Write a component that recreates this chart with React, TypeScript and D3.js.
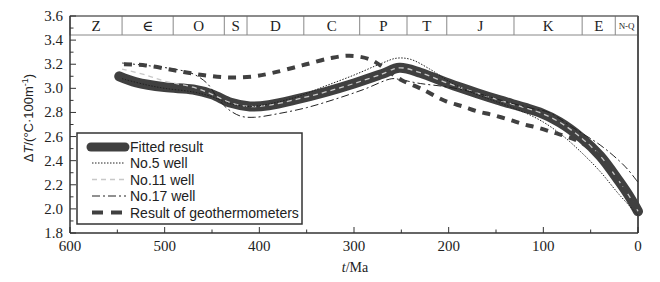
import React from "react";
import * as d3 from "d3";

const periodNames = ["Z", "∈", "O", "S", "D", "C", "P", "T", "J", "K", "E", "N-Q"];
const periodBounds = [600, 545, 491, 437, 413, 353, 294, 244, 202, 131, 59, 24, 0];

const yTicks = [1.8, 2.0, 2.2, 2.4, 2.6, 2.8, 3.0, 3.2, 3.4, 3.6];
const xTicks = [600, 500, 400, 300, 200, 100, 0];

const fittedAge = [548, 530, 500, 470, 450, 430, 410, 390, 360, 330, 300, 270, 252, 230, 200, 170, 146, 120, 104, 83, 60, 40, 20, 8, 0];
const fittedVal = [3.10, 3.05, 3.01, 2.99, 2.95, 2.88, 2.85, 2.86, 2.91, 2.97, 3.04, 3.12, 3.17, 3.13, 3.04, 2.96, 2.90, 2.84, 2.80, 2.72, 2.59, 2.44, 2.23, 2.09, 1.98];

const well5Age = [545, 520, 500, 470, 450, 430, 410, 390, 360, 330, 300, 270, 255, 240, 220, 200, 180, 150, 120, 100, 80, 60, 40, 20, 0];
const well5Val = [3.08, 3.03, 3.00, 2.97, 2.93, 2.87, 2.85, 2.87, 2.93, 3.02, 3.11, 3.21, 3.25, 3.24, 3.16, 3.06, 2.98, 2.89, 2.80, 2.72, 2.61, 2.47, 2.31, 2.12, 1.95];

const well11Age = [545, 520, 500, 470, 450, 430, 410, 390, 360, 330, 300, 270, 252, 230, 200, 170, 146, 120, 104, 83, 60, 40, 20, 8, 0];
const well11Val = [3.16, 3.11, 3.06, 3.01, 2.95, 2.88, 2.85, 2.86, 2.91, 2.97, 3.04, 3.12, 3.17, 3.13, 3.04, 2.96, 2.90, 2.84, 2.80, 2.72, 2.59, 2.44, 2.23, 2.09, 1.98];

const well17Age = [545, 520, 490, 470, 455, 445, 435, 420, 405, 380, 350, 320, 290, 260, 250, 230, 200, 170, 140, 110, 94, 70, 40, 20, 10, 0];
const well17Val = [3.21, 3.19, 3.16, 3.12, 3.04, 2.93, 2.84, 2.77, 2.76, 2.79, 2.84, 2.91, 2.99, 3.08, 3.07, 3.04, 3.01, 2.96, 2.89, 2.83, 2.80, 2.68, 2.53, 2.40, 2.32, 2.22];

const geoAge = [543, 520, 490, 460, 430, 405, 385, 355, 325, 305, 283, 265, 250, 230, 202, 185, 170, 154, 136, 120, 104, 88, 75, 60, 40, 20, 0];
const geoVal = [3.20, 3.19, 3.15, 3.11, 3.09, 3.10, 3.13, 3.19, 3.25, 3.27, 3.24, 3.15, 3.07, 3.00, 2.89, 2.85, 2.81, 2.78, 2.74, 2.70, 2.67, 2.63, 2.60, 2.55, 2.43, 2.22, 1.98];

const legendLabels = ["Fitted result", "No.5 well", "No.11 well", "No.17 well", "Result of geothermometers"];

export default function App() {
  const W = 660, H = 282;
  const x = d3.scaleLinear().domain([600, 0]).range([70, 638]);
  const y = d3.scaleLinear().domain([1.8, 3.6]).range([233, 16]);
  const bandBottom = 35;

  const mk = (ages: number[], vals: number[]) =>
    d3.line<number>().x((_, i) => x(ages[i])).y((_, i) => y(vals[i])).curve(d3.curveCatmullRom.alpha(0.5))(ages.map((a) => a)) || "";

  const minorY = d3.range(1.8, 3.6001, 0.1);
  const minorX = d3.range(0, 601, 50);
  const serif = "'Liberation Serif', 'DejaVu Serif', serif";
  const sans = "'Liberation Sans', Arial, sans-serif";
  const dark = "#404040";

  const legendY = [147, 163, 179.5, 196, 212.5];

  return (
    <svg width={W} height={H} style={{ position: "absolute", left: 0, top: 0, background: "#fff" }}>
      <rect x={0} y={0} width={W} height={H} fill="#fff" />
      {/* period band */}
      <rect x={x(600)} y={16} width={x(0) - x(600)} height={bandBottom - 16} fill="none" stroke="#888" strokeWidth={1} />
      {periodBounds.slice(1, -1).map((b, i) => (
        <line key={"pb" + i} x1={x(b)} x2={x(b)} y1={16} y2={bandBottom} stroke="#888" strokeWidth={1} />
      ))}
      {periodNames.map((n, i) => {
        const cx = (x(periodBounds[i]) + x(periodBounds[i + 1])) / 2;
        const small = n === "N-Q";
        return (
          <text key={"pn" + i} x={cx} y={small ? 29 : 31} textAnchor="middle" fontFamily={serif} fontSize={small ? 9 : 15} fill="#222">
            {n}
          </text>
        );
      })}
      {/* frame */}
      <line x1={x(600)} x2={x(0)} y1={16} y2={16} stroke="#555" strokeWidth={1.2} />
      <line x1={x(0)} x2={x(0)} y1={16} y2={233} stroke="#555" strokeWidth={2} />
      <line x1={x(600)} x2={x(600)} y1={16} y2={233} stroke="#333" strokeWidth={1.5} />
      <line x1={x(600)} x2={x(0)} y1={233} y2={233} stroke="#333" strokeWidth={1.5} />
      {/* y ticks */}
      {minorY.map((v, i) => (
        <line key={"my" + i} x1={x(600)} x2={x(600) + (i % 2 === 0 ? 6 : 3.5)} y1={y(v)} y2={y(v)} stroke="#333" strokeWidth={1} />
      ))}
      {yTicks.map((v) => (
        <text key={"yt" + v} x={63} y={y(v) + 5} textAnchor="end" fontFamily={serif} fontSize={15} fill="#222">
          {v.toFixed(1)}
        </text>
      ))}
      {/* x ticks */}
      {minorX.map((v) => (
        <line key={"mx" + v} x1={x(v)} x2={x(v)} y1={233} y2={233 - (v % 100 === 0 ? 6 : 3.5)} stroke="#333" strokeWidth={1} />
      ))}
      {xTicks.map((v) => (
        <text key={"xt" + v} x={x(v)} y={251} textAnchor="middle" fontFamily={serif} fontSize={15} fill="#222">
          {v}
        </text>
      ))}
      <text x={355} y={272} textAnchor="middle" fontFamily={serif} fontSize={14} fill="#222">
        <tspan fontStyle="italic">t</tspan>/Ma
      </text>
      <text transform="translate(33,118) rotate(-90)" textAnchor="middle" fontFamily={sans} fontSize={13} fill="#222">
        Δ<tspan fontStyle="italic">T</tspan>/(°C·100m<tspan dy={-5} fontSize={9}>-1</tspan><tspan dy={5}>)</tspan>
      </text>
      {/* curves */}
      <path d={mk(fittedAge, fittedVal)} fill="none" stroke={dark} strokeWidth={10} strokeLinecap="round" />
      <path d={mk(well11Age, well11Val)} fill="none" stroke="#c8c8c8" strokeWidth={1.3} strokeDasharray="5,4" />
      <path d={mk(well5Age, well5Val)} fill="none" stroke="#222" strokeWidth={1} strokeDasharray="1.5,1.5" />
      <path d={mk(well17Age, well17Val)} fill="none" stroke="#222" strokeWidth={1} strokeDasharray="8,3,2,3" />
      <path d={mk(geoAge, geoVal)} fill="none" stroke={dark} strokeWidth={4} strokeDasharray="8,7" />
      {/* legend */}
      <rect x={77} y={133} width={225} height={91} fill="#fff" stroke="#333" strokeWidth={1.5} />
      <line x1={91} x2={125} y1={legendY[0]} y2={legendY[0]} stroke={dark} strokeWidth={9} strokeLinecap="round" />
      <line x1={92} x2={124} y1={legendY[1]} y2={legendY[1]} stroke="#222" strokeWidth={1} strokeDasharray="1.5,1.5" />
      <line x1={92} x2={124} y1={legendY[2]} y2={legendY[2]} stroke="#c8c8c8" strokeWidth={1.3} strokeDasharray="5,4" />
      <line x1={92} x2={126} y1={legendY[3]} y2={legendY[3]} stroke="#222" strokeWidth={1} strokeDasharray="8,3,2,3" />
      <line x1={92} x2={124} y1={legendY[4]} y2={legendY[4]} stroke={dark} strokeWidth={4} strokeDasharray="11,8" />
      {legendLabels.map((l, i) => (
        <text key={"lg" + i} x={130} y={legendY[i] + 5} fontFamily={sans} fontSize={14} fill="#222">
          {l}
        </text>
      ))}
    </svg>
  );
}
